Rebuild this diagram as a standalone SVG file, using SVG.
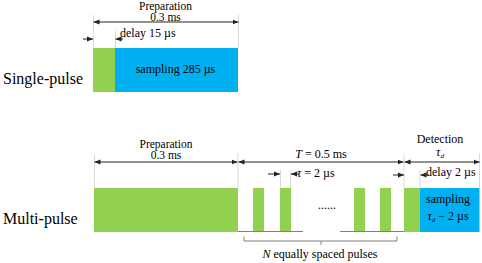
<svg xmlns="http://www.w3.org/2000/svg" width="482" height="263" viewBox="0 0 482 263">
<defs>
<marker id="ah" viewBox="0 0 6 6" refX="6" refY="3" markerWidth="6" markerHeight="6" markerUnits="userSpaceOnUse" orient="auto-start-reverse">
<path d="M0,0.5 L6,3 L0,5.5 z" fill="#222"/>
</marker>
<style>
text{font-family:"Liberation Serif","Times New Roman",serif;fill:#000;}
.s{font-size:12px;}
.p{font-size:11.5px;}
.big{font-size:16px;}
.c{text-anchor:middle;}
.g{fill:#92D050;}
.b{fill:#00B0F0;}
.guide{stroke:#d9d9d9;stroke-width:1;fill:none;}
.arr{stroke:#222;stroke-width:1;fill:none;}
.base{stroke:#808080;stroke-width:1;fill:none;}
.i{font-style:italic;}
</style>
</defs>
<rect width="482" height="263" fill="#fff"/>

<g id="single-pulse">
<text class="big" x="3" y="84">Single-pulse</text>
<rect class="g" x="93" y="48" width="22" height="44"/>
<rect class="b" x="115" y="48" width="123" height="44"/>
<text class="s" x="175.5" y="73" text-anchor="middle">sampling 285 µs</text>
<text class="p c" x="165.5" y="10">Preparation</text>
<text class="p c" x="165.5" y="20.5">0.3 ms</text>
<text class="s" x="120" y="37">delay 15 µs</text>
</g>

<g id="multi-pulse">
<text class="big" x="3" y="224">Multi-pulse</text>
<rect class="g" x="94" y="188" width="144" height="44"/>
<rect class="g" x="253" y="188" width="11" height="44"/>
<rect class="g" x="280" y="188" width="11" height="44"/>
<rect class="g" x="354" y="188" width="11" height="44"/>
<rect class="g" x="380" y="188" width="11" height="44"/>
<rect class="g" x="404" y="188" width="16" height="44"/>
<rect class="b" x="420" y="188" width="59.5" height="44"/>
<text class="p c" x="166" y="148">Preparation</text>
<text class="p c" x="166" y="159">0.3 ms</text>
<text class="s c" x="321" y="158"><tspan class="i">T</tspan> = 0.5 ms</text>
<text class="s" x="297" y="177"><tspan class="i">τ</tspan> = 2 µs</text>
<text class="s c" x="327" y="209">......</text>
<text class="s c" x="440" y="143">Detection</text>
<text class="s c" x="440" y="156"><tspan class="i">τ</tspan><tspan class="i" font-size="7" dy="2">d</tspan></text>
<text class="s" x="426" y="175.5">delay 2 µs</text>
<text class="s c" x="448" y="203" font-size="13">sampling</text>
<text class="s c" x="448" y="219.5"><tspan class="i">τ</tspan><tspan class="i" font-size="7" dy="2">d</tspan><tspan dy="-2"> − 2 µs</tspan></text>
<text class="s c" x="320" y="258"><tspan class="i">N</tspan>  equally spaced pulses</text>
</g>

<g id="connectors">
<path class="guide" d="M93.5,15 V48 M238.5,15 V48 M115.5,31 V48"/>
<path class="guide" d="M94.5,155 V188 M238,153 V188 M404,153 V188 M479.5,153 V188 M280.5,170 V188 M290.5,170 V188 M420,170 V188"/>
<path class="base" d="M238,231.5 H303 M340,231.5 H404"/>
<path class="base" d="M244,236.5 V241 H397 V236.5 M321,241 V245"/>
<line class="arr" x1="93.5" y1="22" x2="238.5" y2="22" marker-start="url(#ah)" marker-end="url(#ah)"/>
<line class="arr" x1="83" y1="39" x2="93" y2="39" marker-end="url(#ah)"/>
<line class="arr" x1="123" y1="39" x2="115.5" y2="39" marker-end="url(#ah)"/>
<line class="arr" x1="94.5" y1="162" x2="237.5" y2="162" marker-start="url(#ah)" marker-end="url(#ah)"/>
<line class="arr" x1="238.5" y1="162" x2="403.5" y2="162" marker-start="url(#ah)" marker-end="url(#ah)"/>
<line class="arr" x1="404.5" y1="162" x2="479.5" y2="162" marker-start="url(#ah)" marker-end="url(#ah)"/>
<line class="arr" x1="268" y1="174" x2="280" y2="174" marker-end="url(#ah)"/>
<line class="arr" x1="299" y1="174" x2="291" y2="174" marker-end="url(#ah)"/>
<line class="arr" x1="393" y1="175" x2="404" y2="175" marker-end="url(#ah)"/>
<line class="arr" x1="429" y1="175" x2="420.5" y2="175" marker-end="url(#ah)"/>
</g>
</svg>
